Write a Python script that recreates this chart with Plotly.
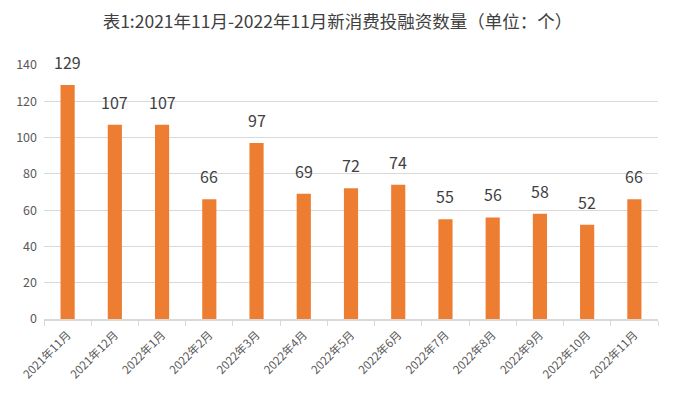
import plotly.graph_objects as go

categories = ["2021年11月", "2021年12月", "2022年1月", "2022年2月", "2022年3月", "2022年4月",
              "2022年5月", "2022年6月", "2022年7月", "2022年8月", "2022年9月", "2022年10月", "2022年11月"]
values = [129, 107, 107, 66, 97, 69, 72, 74, 55, 56, 58, 52, 66]
y_ticks = [0, 20, 40, 60, 80, 100, 120, 140]
title_text = "表1:2021年11月-2022年11月新消费投融资数量（单位：个）"

fig = go.Figure(go.Bar(
    x=categories, y=values,
    marker=dict(color="#ED7D31", line=dict(width=0)),
    hoverinfo="x+y",
))

for c, v in zip(categories, values):
    fig.add_annotation(x=c, y=v, text=str(v), showarrow=False,
                       xanchor="center", yanchor="bottom", yshift=9,
                       font=dict(size=16, color="#404040", family="Noto Sans CJK SC"))

fig.update_layout(
    width=665, height=381,
    margin=dict(l=36, r=15, t=57, b=70),
    paper_bgcolor="white", plot_bgcolor="white",
    bargap=0.70,
    title=dict(text=title_text,
               x=0.4955, xanchor="center", y=0.963, yanchor="middle",
               font=dict(size=17.5, color="#404040", family="Noto Sans CJK SC")),
    showlegend=False,
    font=dict(family="Noto Sans CJK SC", color="#595959"),
)
fig.update_yaxes(range=[0, 140], tickvals=y_ticks, showgrid=True, gridcolor="#D9D9D9",
                 gridwidth=1.2, zeroline=False, showline=False, ticklabelstandoff=6,
                 tickfont=dict(size=12.5, color="#595959"), ticks="", automargin=False)
fig.update_xaxes(showline=True, linecolor="#D9D9D9", linewidth=1.5, ticks="outside",
                 tickson="boundaries", ticklen=5, tickcolor="#D9D9D9", ticklabelstandoff=3,
                 tickangle=-45, tickfont=dict(size=11.5, color="#595959"), automargin=False)

fig.write_html("out.html")
